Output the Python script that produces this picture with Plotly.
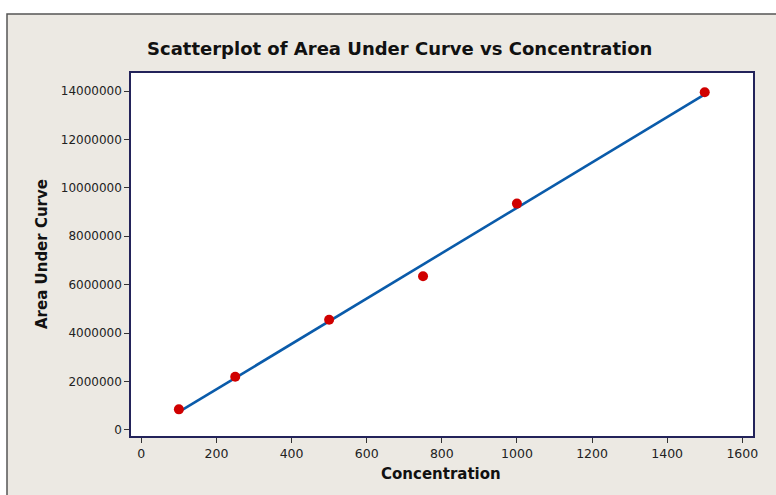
import numpy as np
import plotly.graph_objects as go

# Calibration standards: concentration vs. integrated peak area
concentration = [100, 250, 500, 750, 1000, 1500]
area_under_curve = [850000, 2200000, 4550000, 6350000, 9350000, 13950000]

x_ticks = [0, 200, 400, 600, 800, 1000, 1200, 1400, 1600]
y_ticks = [0, 2000000, 4000000, 6000000, 8000000, 10000000, 12000000, 14000000]

# Least-squares fitted line across the measured concentration span
slope, intercept = np.polyfit(concentration, area_under_curve, 1)
fit_x = np.array([min(concentration), max(concentration)])
fit_y = slope * fit_x + intercept

W, H = 776, 495
L, R, T, B = 131, 753, 73, 436   # plot-area edges in pixels
pw, ph = R - L, B - T

def px_to_paper_x(px):
    return (px - L) / pw

def px_to_paper_y(py):
    return (B - py) / ph

FONT = "DejaVu Sans"
BEIGE = "#ECE9E3"
FRAME = "#23235A"

fig = go.Figure()
fig.add_trace(go.Scatter(
    x=fit_x, y=fit_y, mode="lines",
    line=dict(color="#0A5BAA", width=2.6),
    hoverinfo="skip", showlegend=False,
))
fig.add_trace(go.Scatter(
    x=concentration, y=area_under_curve, mode="markers",
    marker=dict(color="#D00000", size=10, line=dict(width=0)),
    showlegend=False,
))

shapes = [
    # beige panel with dark outline behind everything
    dict(type="rect", xref="paper", yref="paper", layer="below",
         x0=px_to_paper_x(7), x1=px_to_paper_x(W + 20),
         y0=px_to_paper_y(H + 20), y1=px_to_paper_y(14),
         fillcolor=BEIGE, line=dict(color="#555555", width=1.5)),
    # white data region
    dict(type="rect", xref="paper", yref="paper", layer="below",
         x0=0, x1=1, y0=0, y1=1,
         fillcolor="white", line=dict(width=0)),
]

annotations = [
    dict(text="<b>Scatterplot of Area Under Curve vs Concentration</b>",
         xref="paper", yref="paper",
         x=px_to_paper_x(399), y=px_to_paper_y(48),
         xanchor="center", yanchor="middle", showarrow=False,
         font=dict(family=FONT, size=18, color="#111111")),
    dict(text="<b>Area Under Curve</b>",
         xref="paper", yref="paper",
         x=px_to_paper_x(42), y=px_to_paper_y(254),
         xanchor="center", yanchor="middle", textangle=-90, showarrow=False,
         font=dict(family=FONT, size=15, color="#111111")),
    dict(text="<b>Concentration</b>",
         xref="paper", yref="paper",
         x=px_to_paper_x(441), y=px_to_paper_y(474),
         xanchor="center", yanchor="middle", showarrow=False,
         font=dict(family=FONT, size=15, color="#111111")),
]

fig.update_layout(
    width=W, height=H,
    margin=dict(l=L, r=W - R, t=T, b=H - B, pad=0),
    paper_bgcolor="white",
    plot_bgcolor="white",
    shapes=shapes,
    annotations=annotations,
    font=dict(family=FONT, size=12, color="#222222"),
)

fig.update_xaxes(
    range=[-27.5, 1628.5], tickvals=x_ticks, ticktext=[str(v) for v in x_ticks],
    ticks="outside", ticklen=5, tickwidth=1, tickcolor="#333333",
    showgrid=False, zeroline=False,
    showline=True, mirror=True, linecolor=FRAME, linewidth=1.5,
    tickfont=dict(family=FONT, size=12.5, color="#222222"),
)
fig.update_yaxes(
    range=[-250000, 14745000], tickvals=y_ticks, ticktext=[str(v) for v in y_ticks],
    ticks="outside", ticklen=5, tickwidth=1, tickcolor="#333333",
    showgrid=False, zeroline=False,
    showline=True, mirror=True, linecolor=FRAME, linewidth=1.5,
    tickfont=dict(family=FONT, size=12, color="#222222"),
)

fig.write_html("out.html")
